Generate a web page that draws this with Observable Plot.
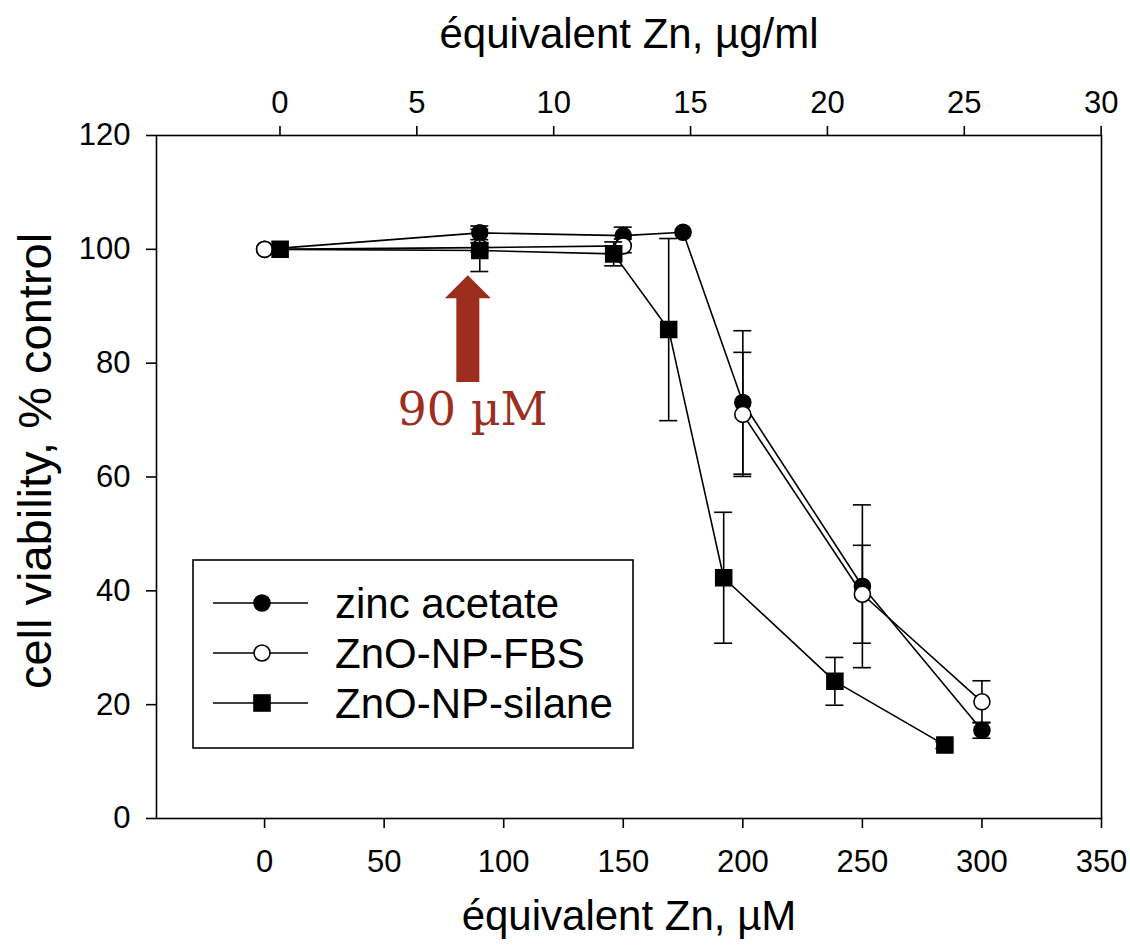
<!DOCTYPE html>
<html>
<head>
<meta charset="utf-8">
<script src="https://cdn.jsdelivr.net/npm/d3@7"></script>
<script src="https://cdn.jsdelivr.net/npm/@observablehq/plot@0.6"></script>
<style>
  html, body { margin: 0; padding: 0; background: #fff; }
  #chart svg { display: block; }
</style>
</head>
<body>
<div id="chart"></div>
<script>
// ---- data ----
const seriesNames = ["zinc acetate", "ZnO-NP-FBS", "ZnO-NP-silane"];

const zincX   = [0, 90, 150, 175, 200, 250, 300];
const zincY   = [100, 102.9, 102.4, 103.0, 73.1, 40.8, 15.5];
const zincErr = [0, 1.2, 1.5, 0, 12.6, 14.3, 1.4];

// no FBS measurement at 175 µM (the line is broken there)
const fbsX   = [0, 90, 150, 175, 200, 250, 300];
const fbsY   = [100, 100.3, 100.6, null, 71.0, 39.4, 20.5];
const fbsErr = [0, 0.8, 1.2, null, 10.9, 8.6, 3.7];

const silX   = [6.5, 90, 146, 169, 192, 238.5, 284.5];
const silY   = [100, 99.8, 99.2, 85.9, 42.3, 24.1, 12.9];
const silErr = [0, 3.7, 2.1, 16.0, 11.5, 4.2, 0.6];

const bottomTicks = [0, 50, 100, 150, 200, 250, 300, 350];
const topTicks    = [0, 5, 10, 15, 20, 25, 30];
const yTicks      = [0, 20, 40, 60, 80, 100, 120];

const bottomLabel = "équivalent Zn, µM";
const topLabel    = "équivalent Zn, µg/ml";
const yLabel      = "cell viability, % control";

// annotation (arrow at ~90 µM)
const arrowLabel = "90 µM";
const arrowX = 85;
const arrowShaft = [76.6, 91.4];
const arrowHeadY = 91.4;
const arrowTextX = 87;
const arrowTextY = 71.7;

// top axis (µg/ml) mapped onto the bottom axis (µM)
const topOffset = 6.44, topSlope = 11.447;
const toUM = g => topOffset + topSlope * g;
const fromUM = m => (m - topOffset) / topSlope;

// ---- build tables ----
function rows(name, xs, ys, es) {
  return xs.map((x, i) => ({series: name, x, y: ys[i] == null ? NaN : ys[i], err: es[i]}));
}
const zinc = rows(seriesNames[0], zincX, zincY, zincErr);
const fbs  = rows(seriesNames[1], fbsX, fbsY, fbsErr);
const sil  = rows(seriesNames[2], silX, silY, silErr);

const font = "'Liberation Sans', Arial, Helvetica, sans-serif";
const red = "#9c2d1f";
const sw = 1.6;

function seriesMarks(data, dotOpts) {
  const e = data.filter(d => d.err > 0 && !isNaN(d.y));
  const pts = data.filter(d => !isNaN(d.y));
  return [
    Plot.line(data, {x: "x", y: "y", stroke: "black", strokeWidth: sw}),
    Plot.ruleX(e, {x: "x", y1: d => d.y - d.err, y2: d => d.y + d.err, stroke: "black", strokeWidth: sw}),
    Plot.ruleY(e, {y: d => d.y + d.err, x1: "x", x2: "x", insetLeft: -9, insetRight: -9, stroke: "black", strokeWidth: sw}),
    Plot.ruleY(e, {y: d => d.y - d.err, x1: "x", x2: "x", insetLeft: -9, insetRight: -9, stroke: "black", strokeWidth: sw}),
    Plot.dot(pts, {x: "x", y: "y", stroke: "black", strokeWidth: sw, ...dotOpts})
  ];
}

const headSymbol = {
  draw(ctx) { ctx.moveTo(-23, 0); ctx.lineTo(23, 0); ctx.lineTo(0, -23); ctx.closePath(); }
};

const chart = Plot.plot({
  width: 1130,
  height: 948,
  marginTop: 135,
  marginBottom: 130,
  marginLeft: 156,
  marginRight: 29,
  style: {fontFamily: font, color: "black", background: "white", overflow: "visible"},
  x: {domain: [-45.2, 350]},
  y: {domain: [0, 120]},
  marks: [
    Plot.frame({stroke: "black", strokeWidth: sw}),
    Plot.axisY(yTicks, {anchor: "left", tickSize: 10, tickPadding: 16, fontSize: 31, label: null, strokeWidth: sw}),
    Plot.axisX(bottomTicks, {anchor: "bottom", tickSize: 10, tickPadding: 21, fontSize: 31, label: null, strokeWidth: sw}),
    Plot.axisX(topTicks.map(toUM), {anchor: "top", tickSize: 10, tickPadding: 13, fontSize: 31, label: null, strokeWidth: sw,
      tickFormat: d => String(Math.round(fromUM(d)))}),
    Plot.text([topLabel], {frameAnchor: "top", dy: -117, fontSize: 42, fill: "black"}),
    Plot.text([bottomLabel], {frameAnchor: "bottom", dy: 111, fontSize: 42, fill: "black"}),
    Plot.text([yLabel], {frameAnchor: "left", textAnchor: "middle", rotate: -90, dx: -121, dy: -16, fontSize: 47, fill: "black"}),
    // arrow annotation
    Plot.ruleX([arrowX], {x: d => d, y1: arrowShaft[0], y2: arrowShaft[1], stroke: red, strokeWidth: 23}),
    Plot.dot([arrowX], {x: d => d, y: arrowHeadY, symbol: headSymbol, fill: red, stroke: "none", r: 10}),
    Plot.text([arrowLabel], {x: arrowTextX, y: arrowTextY, fill: red, fontSize: 46, fontFamily: "'DejaVu Serif', serif"}),
    // series
    ...seriesMarks(zinc, {r: 8, fill: "black"}),
    ...seriesMarks(fbs, {r: 8, fill: "white"}),
    ...seriesMarks(sil, {r: 9, symbol: "square", fill: "black"})
  ]
});

document.getElementById("chart").appendChild(chart);

// ---- legend (inside the plot area) ----
const svg = d3.select(chart);
const lg = svg.append("g").attr("font-family", font).attr("text-anchor", "start");
lg.append("rect").attr("x", 193).attr("y", 560).attr("width", 440).attr("height", 188)
  .attr("fill", "white").attr("stroke", "black").attr("stroke-width", sw);
const legendRows = [
  {name: seriesNames[0], shape: "circle", fill: "black"},
  {name: seriesNames[1], shape: "circle", fill: "white"},
  {name: seriesNames[2], shape: "square", fill: "black"}
];
legendRows.forEach((r, i) => {
  const cy = 603 + i * 50;
  lg.append("line").attr("x1", 213).attr("x2", 308).attr("y1", cy).attr("y2", cy)
    .attr("stroke", "black").attr("stroke-width", sw);
  if (r.shape === "circle") {
    lg.append("circle").attr("cx", 262).attr("cy", cy).attr("r", 8)
      .attr("fill", r.fill).attr("stroke", "black").attr("stroke-width", sw);
  } else {
    lg.append("rect").attr("x", 254).attr("y", cy - 8).attr("width", 16).attr("height", 16)
      .attr("fill", r.fill).attr("stroke", "black").attr("stroke-width", sw);
  }
  lg.append("text").attr("x", 335).attr("y", cy + 15).attr("font-size", 42).attr("fill", "black").text(r.name);
});
</script>
</body>
</html>
